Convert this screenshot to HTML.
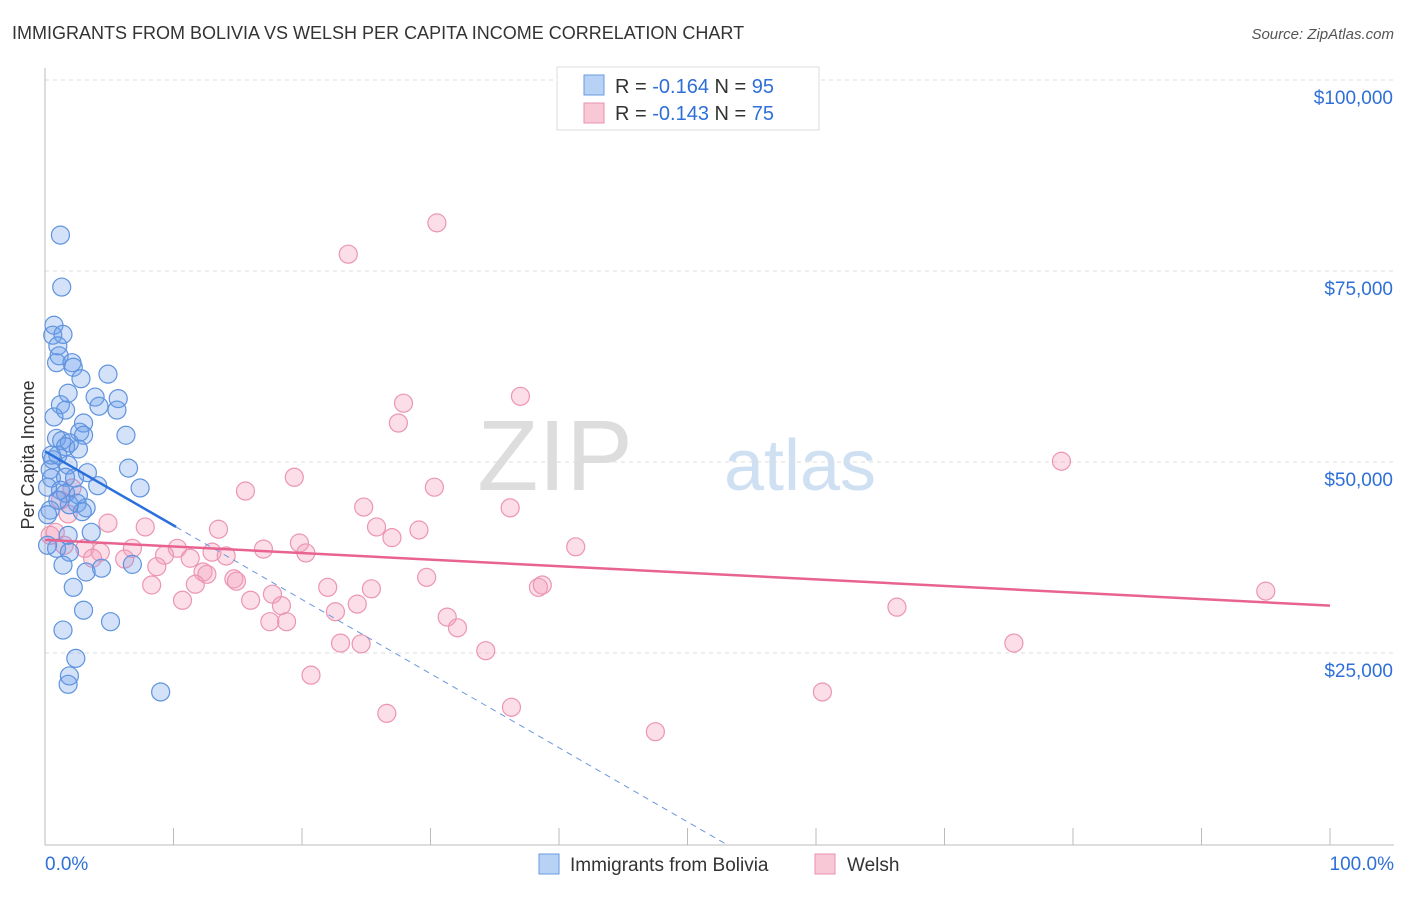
<!DOCTYPE html>
<html><head><meta charset="utf-8"><style>
body{margin:0;background:#fff;font-family:"Liberation Sans",sans-serif}
svg text{font-family:"Liberation Sans",sans-serif}
</style></head><body>
<svg id="c" width="1406" height="892" viewBox="0 0 1406 892">
<text x="12" y="39" font-size="18" fill="#333">IMMIGRANTS FROM BOLIVIA VS WELSH PER CAPITA INCOME CORRELATION CHART</text>
<text x="1394" y="39" font-size="15" fill="#555" font-style="italic" text-anchor="end">Source: ZipAtlas.com</text>
<text x="555" y="490" font-size="100" fill="#ddd" font-family="Liberation Serif" text-anchor="middle">ZIP</text>
<text x="800" y="490" font-size="72" fill="#cfe0f3" text-anchor="middle">atlas</text>
<g id="grid"></g>
<g id="axes"></g>
<g id="pts"></g>
<g id="lines"></g>
<text transform="translate(34,455) rotate(-90)" font-size="18" fill="#333" text-anchor="middle">Per Capita Income</text>
<g>
<rect x="557" y="67" width="262" height="63" fill="#fff" stroke="#ddd"/>
<rect x="584" y="75" width="20" height="20" fill="#b8d2f5" stroke="#6a9ae0"/>
<text x="615" y="93" font-size="20" fill="#333">R = <tspan fill="#2f6fd8">-0.164</tspan>   N = <tspan fill="#2f6fd8">95</tspan></text>
<rect x="584" y="103" width="20" height="20" fill="#f8c8d7" stroke="#e890ab"/>
<text x="615" y="120" font-size="20" fill="#333">R = <tspan fill="#2f6fd8">-0.143</tspan>   N = <tspan fill="#2f6fd8">75</tspan></text>
</g>
<g>
<rect x="539" y="854" width="20" height="20" fill="#b8d2f5" stroke="#6a9ae0"/>
<text x="570" y="871" font-size="19" fill="#333">Immigrants from Bolivia</text>
<rect x="815" y="854" width="20" height="20" fill="#f8c8d7" stroke="#e890ab"/>
<text x="847" y="871" font-size="19" fill="#333">Welsh</text>
</g>
<text x="45" y="870" font-size="19" fill="#2f6fd8">0.0%</text>
<text x="1394" y="870" font-size="19" fill="#2f6fd8" text-anchor="end">100.0%</text>
</svg>
<script>
const yTicks=[25000,50000,75000,100000];
const yTickLabels=["$25,000","$50,000","$75,000","$100,000"];
const xTicks=[0,10,20,30,40,50,60,70,80,90,100];
const boliviaX=[1.2,1.3,0.7,0.6,1.4,1.0,1.1,0.9,2.1,2.2,4.9,2.8,1.8,3.9,5.7,1.2,4.2,5.6,1.6,0.7,3.0,0.9,2.7,3.0,6.3,1.3,1.9,1.6,2.6,1.0,0.6,6.5,1.8,3.3,0.4,0.5,1.6,4.1,7.4,1.2,1.6,0.2,2.6,2.5,3.2,0.4,2.9,1.9,0.2,3.6,1.8,0.9,1.9,6.8,1.4,4.4,3.2,2.2,3.0,5.1,1.4,2.4,1.9,1.8,9.0,0.2,0.5,1.0,2.3];
const boliviaY=[79.7,72.9,67.9,66.6,66.7,65.2,63.9,63.0,63.0,62.4,61.5,60.9,59.0,58.5,58.3,57.5,57.3,56.8,56.8,55.9,55.1,53.1,53.9,53.5,53.5,52.8,52.5,52.0,51.7,50.9,50.3,49.2,49.6,48.6,49.0,47.9,48.0,46.9,46.6,46.3,45.9,46.7,45.7,44.6,44.0,43.7,43.5,44.4,43.1,40.8,40.4,38.7,38.2,36.6,36.5,36.1,35.6,33.6,30.6,29.1,28.0,24.3,22.0,20.9,19.9,39.1,50.9,45.0,47.9];
const welshX=[30.5,23.6,27.9,27.5,37.0,19.4,79.1,15.6,30.3,36.2,24.8,13.5,25.8,29.1,7.8,4.9,27.0,17.0,19.8,20.3,41.3,6.8,10.3,13.0,14.1,9.3,11.3,3.1,4.3,3.7,6.2,8.7,12.3,12.6,14.7,14.9,29.7,8.3,11.7,22.0,25.4,38.4,38.7,17.7,16.0,10.7,24.3,18.4,22.6,66.3,31.3,95.0,17.5,18.8,32.1,23.0,24.6,75.4,34.3,20.7,60.5,36.3,26.6,47.5,0.8,1.8,2.1,1.2,0.4,1.5];
const welshY=[81.3,77.2,57.7,55.1,58.6,48.0,50.1,46.2,46.7,44.0,44.1,41.2,41.5,41.1,41.5,42.0,40.1,38.6,39.4,38.1,38.9,38.7,38.7,38.2,37.7,37.8,37.4,38.7,38.2,37.4,37.3,36.3,35.6,35.3,34.7,34.4,34.9,33.9,34.0,33.6,33.4,33.6,33.9,32.7,31.9,31.9,31.4,31.2,30.4,31.0,29.7,33.1,29.1,29.1,28.3,26.3,26.2,26.3,25.3,22.1,19.9,17.9,17.1,14.7,40.8,43.2,46.6,45.0,40.4,39.1];
const boliviaTrend=[51.4,-0.97]; // intercept (k$), slope per %
const welshTrend=[39.8,-0.086];
const NS="http://www.w3.org/2000/svg";
const X=v=>45+v*12.85;
const Y=v=>844-v/25000*191;
function mk(t,a,p){const e=document.createElementNS(NS,t);for(const k in a)e.setAttribute(k,a[k]);p.appendChild(e);return e;}
const grid=document.getElementById('grid'),axes=document.getElementById('axes'),pts=document.getElementById('pts'),lines=document.getElementById('lines');
yTicks.forEach((t,i)=>{
 const l=mk('line',{x1:45,x2:1394,y1:Y(t),y2:Y(t),stroke:'#ddd','stroke-dasharray':'4,4'},grid);
 
 
 const tx=mk('text',{x:1393,y:Y(t)+24,'font-size':19,fill:'#2f6fd8','text-anchor':'end'},grid);
 tx.textContent=yTickLabels[i];
 
 
});
const tl=mk('line',{x1:45,x2:1394,y1:80,y2:80,stroke:'#ddd','stroke-dasharray':'4,4'},grid);


const ya=mk('line',{x1:45,x2:45,y1:68,y2:845,stroke:'#bbb'},axes);


const xa=mk('line',{x1:45,x2:1394,y1:845,y2:845,stroke:'#bbb'},axes);


xTicks.forEach(t=>{
 const k=mk('line',{x1:X(t),x2:X(t),y1:828,y2:845,stroke:'#bbb'},axes);
 
 
});
welshX.forEach((x,i)=>{
 const c=mk('circle',{cx:X(x),cy:Y(welshY[i]*1000),r:9,fill:'rgba(244,160,188,0.35)',stroke:'#ec95b2','stroke-width':1.2},pts);
 
 
});
boliviaX.forEach((x,i)=>{
 const c=mk('circle',{cx:X(x),cy:Y(boliviaY[i]*1000),r:9,fill:'rgba(110,160,235,0.3)',stroke:'#5f93de','stroke-width':1.2},pts);
 
 
});
const bf=x=>(boliviaTrend[0]+boliviaTrend[1]*x)*1000;
const xEnd=-boliviaTrend[0]/boliviaTrend[1];
const bl=mk('line',{x1:X(0),y1:Y(bf(0)),x2:X(10.2),y2:Y(bf(10.2)),stroke:'#2a6fdb','stroke-width':2.5},lines);


const bd=mk('line',{x1:X(10.2),y1:Y(bf(10.2)),x2:X(xEnd),y2:Y(0),stroke:'#6b97dd','stroke-width':1,'stroke-dasharray':'6,5'},lines);


const wf=x=>(welshTrend[0]+welshTrend[1]*x)*1000;
const wl=mk('line',{x1:X(0),y1:Y(wf(0)),x2:X(100),y2:Y(wf(100)),stroke:'#e8638f','stroke-width':2.5},lines);


</script>
</body></html>
